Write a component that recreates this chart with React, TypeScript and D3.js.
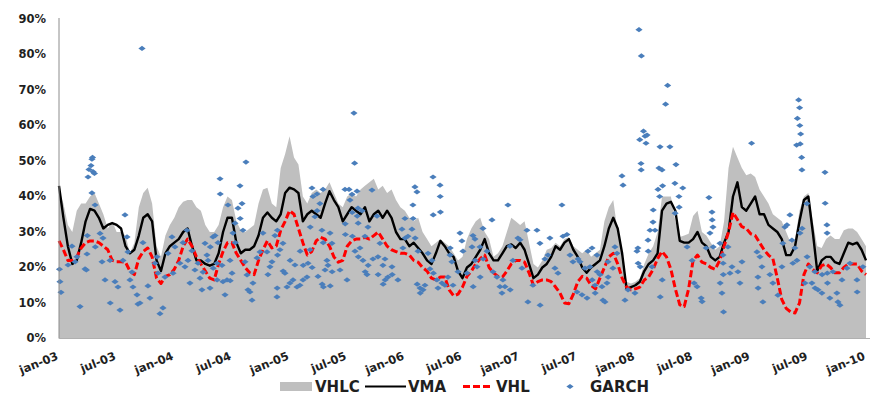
import React from "react";
import * as d3 from "d3";

// months since jan-03 for each biweekly observation: index * 84/182
const vhlc: number[] = [
  42, 38, 32, 30, 36, 38, 38, 40, 41, 38, 35, 31, 33, 30, 30, 29, 24, 27, 37, 41,
  42.5, 38, 26, 23, 29, 32, 34, 37, 38.5, 39, 39, 37, 36, 32, 30, 30, 32, 37, 40, 39,
  33, 30.5, 30, 31, 32, 38, 42, 42.5, 38, 37, 48, 52, 57, 51, 49, 40, 38, 41, 42, 41,
  42, 44, 41, 38, 37, 40, 41, 40, 42, 43, 44, 45, 42, 43, 41, 42, 39, 37, 36, 34,
  33, 34, 30, 28, 26, 27, 28, 27, 26, 24, 22, 23, 28, 31, 33, 34, 30, 28, 23, 24,
  26, 30, 34, 33, 32, 33, 27, 21, 20, 22, 25, 25.5, 27, 26, 28, 28.5, 26, 25, 24, 25,
  23, 24, 25, 33, 37, 39, 30, 24, 16, 15.5, 16, 17, 21, 24, 26, 30, 40, 40, 40, 33,
  28.6, 29, 29.5, 34.5, 36, 30, 29, 27, 25, 26, 33, 48, 54, 51, 48, 46, 46.5, 45.5, 42, 40,
  38, 35, 34, 33, 30, 27, 28, 36, 40, 41, 33, 26, 25.5, 28, 29, 28, 28, 30.5, 31, 31,
  30, 28, 26,
];

const vma: number[] = [
  43, 34, 26, 21, 22, 27, 33, 36.5, 36, 34, 31, 32, 32.5, 32, 31, 26, 24, 25, 29, 34,
  35, 33, 22, 19, 24, 26, 27, 28, 30, 31, 26, 22, 22, 21, 20.5, 21, 24, 30, 34, 34,
  27, 24, 25, 25, 26, 29, 34, 35.5, 34, 33, 35, 41, 42.5, 42, 41, 33, 35, 36, 35, 34,
  38, 41.5, 39, 37, 33, 35, 37, 36, 35, 37, 33, 35, 36, 34, 36, 34, 30, 28, 28, 26,
  27, 25.5, 24, 22, 21, 24, 27.5, 26, 24, 23, 19, 17, 20, 21, 23, 25, 28, 24, 22, 22,
  24, 26, 26.5, 25.5, 27, 25, 21, 17, 18, 20, 21, 23, 26, 25, 27, 28, 25, 23, 20, 18.5,
  20, 21, 22, 26, 31, 34, 31, 24, 14, 14.5, 15, 16, 19, 21, 22, 24, 36, 38, 38.5, 36,
  27.5, 27, 27, 28, 30, 27, 26, 23, 22, 23, 27, 30, 40, 44, 37, 36, 38, 40, 35, 35,
  32, 31, 30, 28, 23.5, 23.5, 26, 33, 39, 40, 30, 19, 22, 23, 23, 21.5, 21, 24, 27, 26.5,
  27, 25, 22,
];

const vhl: number[] = [
  27.5, 25, 22, 22, 23, 25.5, 27, 27.5, 27.5, 27, 26, 25, 22, 21.6, 21.6, 21.5, 19, 18, 22.5, 24.5,
  25.5, 23, 17, 15.5, 17.5, 18, 19.5, 22, 26, 28, 26, 23, 21, 19, 17, 16.5, 21, 24.5, 27, 27,
  24, 22, 20, 18.5, 18, 22, 25, 27.5, 25.5, 26, 30.5, 33, 36, 35, 31, 27, 23.5, 24.5, 27.5, 28.5,
  28, 26, 23, 21.5, 22, 26, 27.5, 28, 28, 28.5, 28, 29, 30, 28, 26, 25, 24.5, 24, 24, 23.5,
  22, 21.5, 20, 19, 17, 16.5, 17.3, 17.3, 13.7, 12, 12.5, 14.5, 17.5, 19, 21, 22.5, 23.5, 20, 18.5, 17.5,
  17.3, 19, 21, 22, 22, 21.5, 18.5, 15, 16, 16.5, 16.5, 16, 14.5, 12.8, 10, 9.8, 12.5, 16, 17.5, 17,
  15, 14, 17, 20, 23, 24, 21, 17, 14.5, 13.7, 14, 14.5, 16.5, 17.4, 19.5, 22.5, 24.5, 23, 19.5, 14,
  9.5, 9, 14, 22, 23.5, 21.5, 21, 20, 19.5, 22, 26, 30, 35.5, 33.5, 31.5, 31, 29.5, 29, 27, 25,
  23.5, 22.5, 17, 11, 8.5, 7.5, 7.2, 10, 18, 21, 19.5, 18.5, 20.5, 21, 20, 18.5, 18.5, 20, 21, 21,
  21, 19, 18,
];

// GARCH: [months since jan-03, volatility %]
const garchPoints: [number, number][] = [
  [0.05,19.5],[0.10,16],[0.21,13],[0.94,20.7],[1.35,26],[1.67,21.6],[1.87,23],[2.19,9],[2.71,19.6],[2.85,19.3],
  [2.91,23.8],[2.95,29],[3.02,45.5],[3.12,47.6],[3.33,48.7],[3.43,50.5],[3.49,51],[3.54,47],[3.69,46.5],[3.43,41],
  [3.75,37.6],[3.78,25.8],[4.27,29.6],[4.48,21.6],[4.58,28.3],[4.79,16.5],[5.31,22],[5.33,10],[5.83,16],[6.14,14.5],
  [6.35,8],[6.66,22],[6.87,34.8],[7.08,28.6],[7.18,24.4],[7.39,16.5],[7.60,18.7],[7.70,14.5],[8.12,12.3],[8.22,9.7],
  [8.43,10],[8.64,81.7],[8.74,27],[9.26,14.8],[9.47,11.4],[9.99,21.2],[10.20,23],[10.30,18.4],[10.51,7],[10.82,8.6],
  [11.03,17.3],[11.35,24],[11.76,28.6],[11.87,18.4],[12.07,25.8],[12.59,21.2],[12.91,27],[13.11,20.2],[13.32,30.5],[13.43,22],
  [13.63,15.6],[13.84,24.7],[14.15,19.3],[14.47,21.2],[14.68,17],[14.88,13.7],[14.99,18.7],[15.20,26.8],[15.40,23.5],[15.51,22],
  [15.72,14.2],[15.75,25.8],[16.03,28.6],[16.05,19.8],[16.24,29],[16.44,21.2],[16.46,16.5],[16.55,27],[16.76,45],[16.78,40.7],
  [16.97,20.6],[17.07,16],[17.28,12.3],[17.49,16.5],[17.59,37.6],[17.80,22],[17.82,16.3],[18.01,18.4],[18.11,29.7],[18.32,32.5],
  [18.34,27],[18.63,36.7],[18.84,43],[18.86,33.8],[19.05,38],[19.15,30.5],[19.36,21.6],[19.46,49.7],[19.57,17.9],[19.67,13.7],
  [19.88,13.1],[20.09,10.8],[20.19,15.6],[20.61,22.7],[20.92,24.4],[21.23,29.7],[21.65,24.4],[21.75,18],[21.96,20.2],[22.17,21.6],
  [22.48,29],[22.69,11.7],[22.71,14.2],[22.73,30.5],[22.75,23.5],[23.00,25],[23.31,26.8],[23.33,19],[23.52,18.4],[23.73,14.5],
  [24.04,15.6],[24.06,22],[24.36,16.5],[24.56,20.7],[24.77,14.5],[25.08,15],[25.10,24.6],[25.40,16.5],[25.42,20.6],[25.81,17.3],
  [25.92,21.2],[26.13,25],[26.15,31.4],[26.33,42.4],[26.35,20],[26.44,40],[26.64,34.3],[26.85,40.7],[26.87,36],[26.96,17.5],
  [27.16,38],[27.37,30.5],[27.39,15.3],[27.48,42],[27.50,27],[27.52,14.5],[27.69,19.3],[27.89,22],[28.00,20.6],[28.21,29.7],
  [28.23,14.8],[28.41,26.8],[28.43,18.8],[29.25,19.3],[29.77,42],[29.79,32.3],[29.81,29.3],[29.98,16.5],[30.19,42],[30.29,39],
  [30.50,40.6],[30.52,35.5],[30.54,28.8],[30.70,63.5],[30.77,49.4],[30.81,24.6],[31.02,41.5],[31.04,34.5],[31.12,36.7],[31.14,32.5],
  [31.16,23],[31.33,25.5],[31.54,36],[31.64,22],[31.85,28.8],[31.87,18.8],[32.06,18],[32.16,31.4],[32.18,20.6],[32.58,41.8],
  [32.68,22.4],[33.10,34.5],[33.20,23],[33.22,18],[33.41,26.8],[33.72,20.6],[33.74,15.3],[33.93,22.4],[33.95,16.5],[34.24,17.3],
  [34.66,20.2],[34.68,18],[35.28,16.5],[35.70,30.8],[35.80,25.5],[36.01,33.8],[36.03,28.3],[36.32,28.8],[36.74,30.8],[36.84,37.6],
  [36.86,33.8],[37.05,42.7],[37.07,28.3],[37.26,41.3],[37.28,15.3],[37.37,24.6],[37.58,14.2],[37.60,12.8],[37.89,13.7],[38.09,15],
  [38.41,24],[38.61,19.6],[38.82,22],[38.93,45.5],[38.95,34.8],[38.97,18.4],[39.34,16.5],[39.45,14.2],[39.66,43.2],[39.68,40],
  [39.70,35.6],[39.86,15.6],[40.17,15],[40.49,17.3],[40.70,23.5],[40.72,25.5],[40.90,21.6],[41.01,15],[41.53,18.8],[41.74,29.7],
  [41.94,27.5],[42.05,24.6],[42.47,18.4],[42.99,25.8],[43.09,29],[43.11,14.6],[43.30,28],[43.32,22],[43.51,20.2],[43.82,25.8],
  [43.84,17.3],[44.13,31],[44.15,22.4],[44.55,24.6],[45.07,33.4],[45.17,18.8],[45.59,17.3],[45.90,14.6],[46.11,12.8],[46.21,16.5],
  [46.42,14.6],[46.73,37.6],[46.94,26],[46.96,13.7],[47.25,22],[47.77,28.3],[47.98,27.8],[48.19,19.8],[48.71,30.5],[48.81,10.3],
  [49.33,15],[49.75,30.5],[50.06,26.8],[50.08,9.4],[50.58,22.4],[50.90,23.5],[51.10,28.3],[51.62,19.8],[51.94,18.4],[52.35,37.6],
  [52.46,28.8],[52.87,29.3],[53.19,23.5],[53.50,21.6],[53.92,13.1],[54.02,22.4],[54.23,21.6],[54.44,12.3],[54.75,19.8],[54.96,11.4],
  [55.06,24.6],[55.27,20.2],[55.48,25.5],[55.50,16.5],[55.79,15],[55.81,12.8],[56.00,23.5],[56.02,18.8],[56.31,18],[56.52,14.6],
  [56.62,10.8],[56.83,10.3],[57.04,15.6],[57.14,21.6],[57.16,17.3],[57.66,19.8],[57.87,25.8],[58.08,24],[58.60,45.8],[58.71,43.2],
  [58.91,10.8],[59.23,13.7],[59.95,12.8],[60.16,24.6],[60.26,25.5],[60.28,21.2],[60.37,87],[60.45,56],[60.50,20.2],[60.58,49.3],
  [60.60,47.5],[60.62,79.6],[60.84,58.4],[61.00,57],[61.10,55],[61.21,57.3],[61.31,27.7],[61.33,24.6],[61.52,30.5],[61.73,20.2],
  [61.83,32.8],[61.85,36.2],[62.04,30.5],[62.35,42],[62.45,48],[62.52,40],[62.56,54],[62.58,11.7],[62.77,47.5],[62.79,16.5],
  [62.83,43],[63.14,66],[63.35,71.3],[63.59,54],[64.11,43.7],[64.13,35.3],[64.22,49],[64.53,40],[64.55,37],[64.93,42.4],
  [65.38,25.8],[65.90,22],[66.11,15.6],[66.42,14.6],[66.84,11.4],[66.94,10.4],[67.36,25.5],[67.65,39.7],[67.76,29.7],[67.97,35.6],
  [67.99,33.4],[68.07,31.4],[68.09,25.8],[68.80,26.8],[68.82,15.6],[69.01,12.8],[69.11,23.5],[69.13,21.2],[69.15,18],[69.17,7.5],
  [69.63,25.8],[69.84,18.4],[70.05,20.2],[70.67,18.8],[70.88,15.6],[71.09,21.6],[72.09,55],[72.65,24.4],[72.75,17.3],[72.77,14.2],
  [72.96,23],[73.17,20.2],[73.27,10.3],[74.00,18],[74.31,15.6],[74.83,12.2],[75.25,20.2],[75.35,26.8],[75.56,31.4],[75.77,32],
  [76.08,34.8],[76.29,27.7],[76.39,21.2],[76.60,25.5],[76.78,54.5],[76.81,22],[76.86,62],[76.99,67.2],[77.09,65],[77.11,60],
  [77.13,29.7],[77.15,54.8],[77.20,57.6],[77.30,51],[77.33,47.5],[77.35,31],[77.64,15.6],[77.85,38],[77.87,23],[78.16,20.2],
  [78.37,15.6],[78.68,18.8],[78.70,14.2],[79.00,13.7],[79.41,12.8],[79.43,18],[79.73,46.8],[79.75,38.1],[79.93,32],[79.95,29.7],
  [79.97,18.4],[79.99,15.6],[80.24,11.4],[80.56,18.8],[80.97,12.8],[81.08,10.3],[81.29,9.4],[81.50,16.5],[82.02,19.8],[82.33,21.2],
  [83.06,16.5],[83.08,13.1],[83.68,20.2],
];

const xTickMonths: number[] = [0, 6, 12, 18, 24, 30, 36, 42, 48, 54, 60, 66, 72, 78, 84];
const xTickLabels: string[] = [
  "jan-03", "jul-03", "jan-04", "jul-04", "jan-05", "jul-05", "jan-06", "jul-06",
  "jan-07", "jul-07", "jan-08", "jul-08", "jan-09", "jul-09", "jan-10",
];
const yTicks: number[] = [0, 10, 20, 30, 40, 50, 60, 70, 80, 90];
const legendLabels: string[] = ["VHLC", "VMA", "VHL", "GARCH"];

const W = 873;
const H = 395;
const FONT = "'DejaVu Sans', Arial, sans-serif";
const GRAY = "#bfbfbf";
const BLUE = "#4a7ebb";
const RED = "#ff0000";
const TEXT = "#1f1f1f";

export default function App() {
  const x = d3.scaleLinear().domain([0, 84]).range([59, 866]);
  const y = d3.scaleLinear().domain([0, 90]).range([338.5, 19]);
  const monthOf = (i: number) => (i * 84) / 182;

  const area = d3
    .area<number>()
    .x((_, i) => x(monthOf(i)))
    .y0(y(0))
    .y1((d) => y(d));
  const line = d3
    .line<number>()
    .x((_, i) => x(monthOf(i)))
    .y((d) => y(d));

  const diamond = "M0,-2.6L3.6,0L0,2.6L-3.6,0Z";

  return (
    <div style={{ position: "absolute", left: 0, top: 0 }}>
      <svg width={W} height={H} style={{ display: "block", background: "#fff" }}>
        <path d={area(vhlc) || ""} fill={GRAY} stroke="none" />
        <path d={line(vma) || ""} fill="none" stroke="#000" strokeWidth={2.4} strokeLinejoin="round" />
        <path
          d={line(vhl) || ""}
          fill="none"
          stroke={RED}
          strokeWidth={3}
          strokeDasharray="7,3"
          strokeLinejoin="round"
        />
        {garchPoints.map(([m, v], i) => (
          <path key={i} d={diamond} transform={`translate(${x(m)},${y(v)})`} fill={BLUE} />
        ))}

        {/* axes */}
        <line x1={x(0)} x2={x(0)} y1={y(90) - 1} y2={y(0)} stroke="#8c8c8c" strokeWidth={1} />
        <line x1={x(0)} x2={870} y1={y(0)} y2={y(0)} stroke="#b0b0b0" strokeWidth={1} />

        {yTicks.map((t) => (
          <text
            key={t}
            x={46}
            y={y(t)}
            textAnchor="end"
            dominantBaseline="middle"
            fontFamily={FONT}
            fontWeight="bold"
            fontSize={11.5}
            fill={TEXT}
          >
            {`${t}%`}
          </text>
        ))}

        {xTickMonths.map((m, i) => (
          <text
            key={m}
            transform={`translate(${x(m)},359) rotate(-22)`}
            textAnchor="end"
            fontFamily={FONT}
            fontWeight="bold"
            fontSize={11.5}
            fill={TEXT}
          >
            {xTickLabels[i]}
          </text>
        ))}

        {/* legend */}
        <g fontFamily={FONT} fontWeight="bold" fontSize={15} fill={TEXT}>
          <rect x={280} y={382} width={32} height={9} fill={GRAY} />
          <text x={315} y={387} dominantBaseline="middle">{legendLabels[0]}</text>
          <line x1={365} x2={406} y1={386.5} y2={386.5} stroke="#000" strokeWidth={2} />
          <text x={408} y={387} dominantBaseline="middle">{legendLabels[1]}</text>
          <line x1={463} x2={493} y1={386.5} y2={386.5} stroke={RED} strokeWidth={3} strokeDasharray="7,3" />
          <text x={496} y={387} dominantBaseline="middle">{legendLabels[2]}</text>
          <path d={diamond} transform="translate(570,386.5)" fill={BLUE} />
          <text x={590} y={387} dominantBaseline="middle">{legendLabels[3]}</text>
        </g>
      </svg>
    </div>
  );
}
